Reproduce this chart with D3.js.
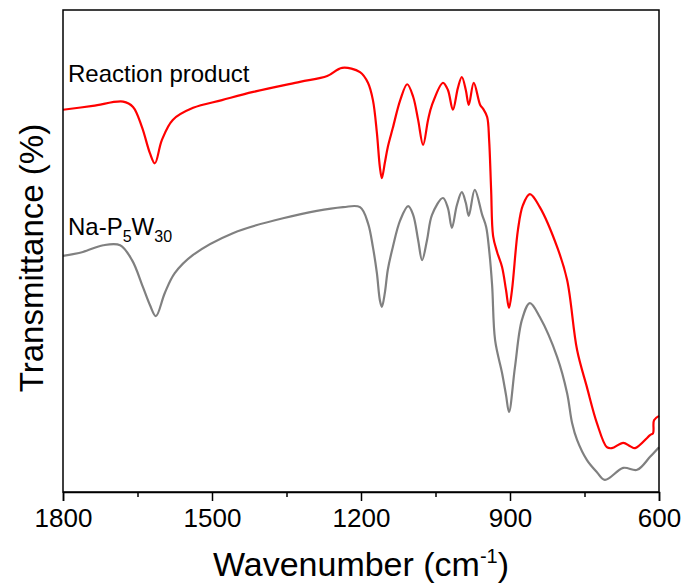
<!DOCTYPE html>
<html lang="en">
<head>
  <meta charset="UTF-8">
  <title>FTIR spectra</title>
  <script src="https://d3js.org/d3.v7.min.js"></script>
  <style>
    body {
      margin: 0;
      padding: 0;
      background: #fff;
    }
    svg text {
      font-family: Arial, "Liberation Sans", sans-serif;
      fill: #000;
    }
  </style>
</head>
<body>
  <div id="chart"></div>

  <script>
  // wavenumber (cm-1) and transmittance (arbitrary offset units)
  const productWave = [1800, 1740, 1679, 1659, 1641, 1625, 1615, 1601, 1579, 1538, 1480, 1417,
    1323, 1268, 1238, 1202, 1186, 1176, 1168, 1162, 1158, 1152, 1146, 1136, 1121, 1107, 1095,
    1085, 1075, 1065, 1057, 1035, 1025, 1015, 1005, 997, 989, 983, 973, 960, 954, 946, 942,
    938, 934, 926, 916, 908, 902, 896, 884, 874, 860, 840, 805, 785, 765, 745, 725, 705, 695,
    672, 658, 648, 618, 612, 610, 600];
  const productT = [79.3, 80.1, 81.0, 79.9, 75.7, 70.3, 68.2, 73.0, 77.2, 79.7, 81.3, 83.0,
    85.1, 86.3, 88.0, 87.1, 84.9, 81.3, 74.5, 67.4, 65.1, 68.3, 71.6, 75.5, 81.3, 84.6, 82.0,
    77.2, 72.0, 77.2, 80.3, 84.9, 83.4, 79.3, 83.8, 86.1, 83.4, 80.3, 84.9, 80.3, 79.5, 77.8,
    73.0, 62.7, 53.1, 49.8, 46.7, 41.9, 38.2, 41.9, 54.4, 59.5, 61.8, 59.1, 50.8, 44.0, 29.5,
    21.7, 14.3, 9.3, 9.1, 10.2, 9.5, 9.1, 11.8, 12.2, 14.9, 15.8];

  const naWave = [1800, 1760, 1719, 1685, 1661, 1639, 1625, 1613, 1595, 1575, 1538, 1458, 1357,
    1236, 1202, 1186, 1176, 1168, 1162, 1158, 1152, 1146, 1136, 1121, 1105, 1095, 1085, 1077,
    1067, 1057, 1035, 1025, 1017, 1007, 997, 989, 983, 971, 956, 948, 942, 936, 930, 916, 908,
    902, 890, 876, 860, 840, 805, 785, 775, 765, 745, 725, 709, 672, 644, 618, 600];
  const naT = [49.0, 49.8, 51.2, 51.2, 48.1, 42.5, 38.8, 36.5, 41.3, 45.4, 49.2, 53.7, 56.8,
    59.1, 59.1, 55.8, 50.8, 45.4, 39.8, 38.4, 41.3, 46.1, 50.8, 56.4, 59.3, 57.5, 52.3, 48.1,
    52.3, 57.5, 61.0, 58.9, 54.8, 59.5, 62.2, 60.0, 57.3, 62.7, 57.5, 55.0, 50.2, 42.9, 31.5,
    24.7, 20.1, 16.6, 25.9, 35.7, 39.2, 36.3, 28.0, 20.5, 14.3, 10.8, 6.6, 4.1, 2.5, 5.0, 4.6,
    7.3, 9.3];

  const majorTicks = [1800, 1500, 1200, 900, 600];
  const minorTicks = [1650, 1350, 1050, 750];

  const width = 686, height = 584;
  const margin = { top: 10, right: 27, bottom: 92, left: 63 };

  const svg = d3.select("#chart").append("svg")
    .attr("width", width)
    .attr("height", height);

  const x = d3.scaleLinear().domain([1800, 600]).range([margin.left, width - margin.right]);
  const y = d3.scaleLinear().domain([0, 100]).range([height - margin.bottom, margin.top]);

  const line = d3.line()
    .x(d => x(d[0]))
    .y(d => y(d[1]))
    .curve(d3.curveCatmullRom.alpha(0.5));

  svg.append("path")
    .datum(d3.zip(naWave, naT))
    .attr("fill", "none")
    .attr("stroke", "#808080")
    .attr("stroke-width", 2.2)
    .attr("d", line);

  svg.append("path")
    .datum(d3.zip(productWave, productT))
    .attr("fill", "none")
    .attr("stroke", "#ff0000")
    .attr("stroke-width", 2.2)
    .attr("d", line);

  // frame
  svg.append("rect")
    .attr("x", margin.left)
    .attr("y", margin.top)
    .attr("width", width - margin.left - margin.right)
    .attr("height", height - margin.top - margin.bottom)
    .attr("fill", "none")
    .attr("stroke", "#000")
    .attr("stroke-width", 1.5);

  // x axis
  const xAxis = svg.append("g")
    .attr("transform", `translate(0,${height - margin.bottom})`)
    .call(d3.axisBottom(x).tickValues(majorTicks).tickSize(9).tickPadding(8).tickFormat(d3.format("d")));
  xAxis.select(".domain").attr("stroke-width", 1.5);
  xAxis.selectAll(".tick line").attr("stroke-width", 1.5);
  xAxis.selectAll("text").style("font-size", "26px");

  svg.append("g")
    .attr("transform", `translate(0,${height - margin.bottom})`)
    .call(d3.axisBottom(x).tickValues(minorTicks).tickSize(5).tickFormat(""))
    .call(g => g.select(".domain").remove())
    .selectAll(".tick line").attr("stroke-width", 1.5);

  // axis titles
  const xTitle = svg.append("text")
    .attr("x", (margin.left + width - margin.right) / 2)
    .attr("y", 576)
    .attr("text-anchor", "middle")
    .style("font-size", "34px");
  xTitle.append("tspan").text("Wavenumber (cm");
  xTitle.append("tspan").attr("dy", -13).style("font-size", "20px").text("-1");
  xTitle.append("tspan").attr("dy", 13).text(")");

  svg.append("text")
    .attr("transform", "translate(43,258) rotate(-90)")
    .attr("text-anchor", "middle")
    .style("font-size", "33px")
    .text("Transmittance (%)");

  // curve labels
  svg.append("text")
    .attr("x", 68)
    .attr("y", 82)
    .style("font-size", "24px")
    .text("Reaction product");

  const naLabel = svg.append("text")
    .attr("x", 68)
    .attr("y", 235)
    .style("font-size", "24px");
  naLabel.append("tspan").text("Na-P");
  naLabel.append("tspan").attr("dy", 7).style("font-size", "16px").text("5");
  naLabel.append("tspan").attr("dy", -7).text("W");
  naLabel.append("tspan").attr("dy", 7).style("font-size", "16px").text("30");
  </script>
</body>
</html>
